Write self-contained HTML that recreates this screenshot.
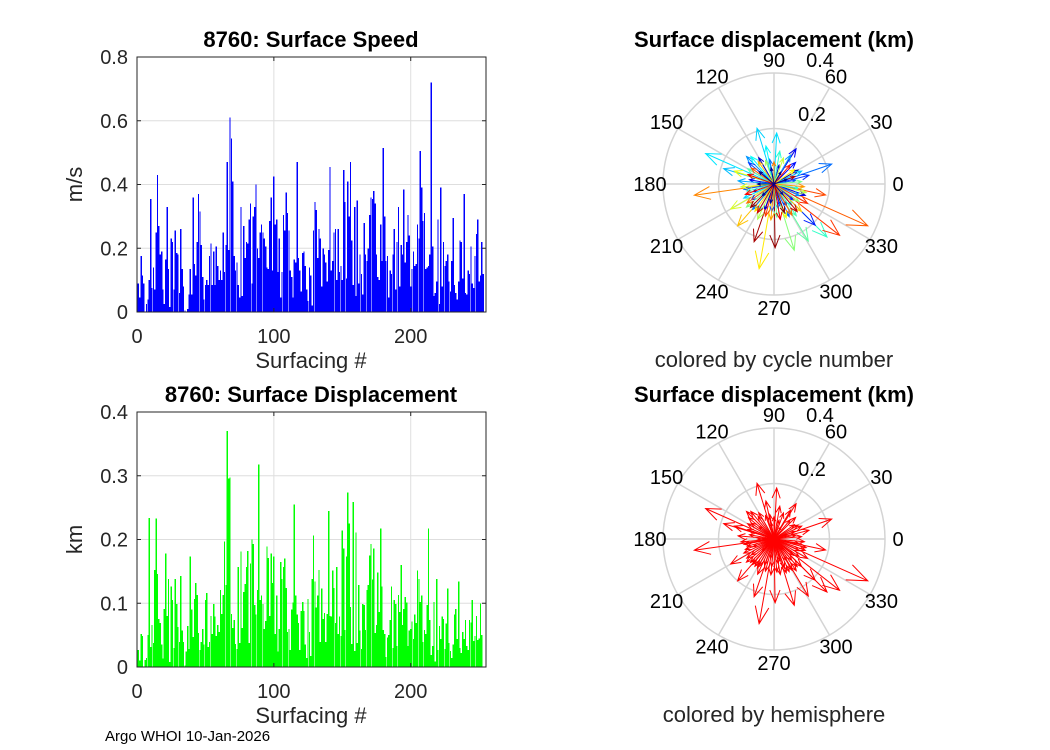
<!DOCTYPE html>
<html><head><meta charset="utf-8">
<style>
html,body{margin:0;padding:0;background:#fff;}
svg{display:block;font-family:"Liberation Sans",sans-serif;}
</style></head>
<body>
<svg id="fig" width="1050" height="750" viewBox="0 0 1050 750" xmlns="http://www.w3.org/2000/svg">
<rect width="1050" height="750" fill="#fff"/>
<g id="root"></g>
</svg>
<script>
// ---------- data ----------
const speedValues = [0.09,0.045,0.175,0.115,0.09,0,0.025,0.04,0.10,0.355,
0.075,0.14,0.07,0.25,0.43,0.27,0.18,0.19,0.07,0.025,
0.165,0.33,0.135,0.015,0.23,0.22,0.07,0.255,0.185,0.18,
0.06,0.26,0.135,0.08,0.005,0,0.01,0.055,0.135,0.055,
0.36,0.15,0.115,0.22,0.37,0.315,0.21,0.11,0.04,0.085,
0.10,0.085,0.175,0.215,0.085,0.19,0.085,0.205,0.145,0.10,
0.13,0.10,0.25,0.125,0.21,0.47,0.195,0.61,0.545,0.41,
0.175,0.13,0.155,0.085,0.045,0.33,0.05,0.27,0.17,0.22,
0.215,0.29,0.34,0.09,0.30,0.33,0.40,0.20,0.17,0.25,
0.275,0.25,0.23,0.205,0.14,0.135,0.285,0.36,0.13,0.425,
0.275,0.29,0.125,0.23,0.045,0.125,0.305,0.255,0.375,0.31,
0.255,0.13,0.11,0.045,0.165,0.155,0.47,0.17,0.13,0.065,
0.185,0.19,0.145,0.07,0.035,0.14,0.115,0.02,0.255,0.345,
0.32,0.17,0.26,0.23,0.08,0.20,0.18,0.155,0.095,0.195,
0.455,0.13,0.16,0.25,0.26,0.10,0.26,0.125,0.145,0.10,
0.445,0.345,0.105,0.41,0.30,0.47,0.225,0.085,0.33,0.05,
0.35,0.09,0.18,0.12,0.055,0.28,0.18,0.16,0.20,0.305,
0.36,0.355,0.38,0.34,0.18,0.11,0.10,0.275,0.16,0.515,0.30,
0.16,0.175,0.045,0.13,0.12,0.18,0.26,0.07,0.22,0.33,
0.08,0.21,0.18,0.385,0.155,0.22,0.305,0.24,0.08,0.135,
0.19,0.145,0.15,0.275,0.23,0.505,0.39,0.285,0.31,0.135,
0.14,0.145,0.18,0.72,0.205,0.05,0.06,0.095,0.29,0.025,0.39,
0.08,0.22,0.145,0.16,0.18,0.095,0.065,0.16,0.295,0.085,
0.06,0.04,0.095,0.225,0.22,0.105,0.37,0.06,0.055,0.13,
0.12,0.205,0.09,0.075,0.175,0.245,0.29,0.095,0.115,0.22,0.12];
const dispValues = [0.027,0.01,0.052,0.049,0,0.011,0.014,0.05,0.234,0.031,
0.066,0.038,0.152,0.233,0.146,0.075,0.069,0.035,0.013,0.091,
0.178,0.08,0.138,0.008,0.126,0.105,0.03,0.138,0.099,0.063,
0.039,0.143,0.057,0.039,0.002,0.024,0.064,0.028,0.173,0.09,
0.047,0.107,0.132,0.113,0.053,0.027,0.039,0.06,0.035,0.105,
0.116,0.031,0.039,0.08,0.052,0.099,0.079,0.049,0.066,0.055,
0.121,0.083,0.113,0.197,0.129,0.37,0.296,0.297,0.083,0.061,
0.074,0.036,0.028,0.157,0.038,0.181,0.061,0.118,0.13,0.157,
0.182,0.038,0.162,0.2,0.193,0.097,0.082,0.121,0.318,0.105,
0.112,0.099,0.06,0.072,0.189,0.171,0.08,0.178,0.132,0.173,
0.052,0.112,0.024,0.06,0.165,0.138,0.157,0.17,0.124,0.055,
0.06,0.027,0.09,0.101,0.255,0.112,0.082,0.069,0.027,0.088,
0.102,0.088,0.035,0.014,0.107,0.055,0.017,0.138,0.206,0.134,
0.093,0.112,0.152,0.039,0.123,0.075,0.085,0.039,0.083,0.245,
0.08,0.079,0.151,0.124,0.069,0.157,0.052,0.079,0.049,0.214,
0.186,0.058,0.173,0.274,0.225,0.094,0.036,0.259,0.025,0.211,
0.038,0.129,0.057,0.028,0.099,0.097,0.058,0.121,0.129,0.175,
0.193,0.137,0.186,0.053,0.066,0.148,0.086,0.217,0.126,0.058,
0.052,0.016,0.046,0.05,0.074,0.126,0.03,0.105,0.099,0.033,
0.113,0.086,0.16,0.066,0.091,0.11,0.101,0.033,0.057,0.06,
0.071,0.044,0.082,0.069,0.151,0.138,0.102,0.112,0.039,0.058,
0.052,0.097,0.217,0.074,0.019,0.033,0.102,0.009,0.138,0.027,
0.064,0.044,0.079,0.075,0.028,0.068,0.123,0.038,0.025,0.014,
0.035,0.082,0.091,0.044,0.134,0.03,0.022,0.055,0.044,0.074,
0.033,0.027,0.074,0.07,0.105,0.041,0.049,0.08,0.042,0.045,0.1,0.05];
const xTicks = [0,100,200];
const speedTicks = [0,0.2,0.4,0.6,0.8];
const dispTicks = [0,0.1,0.2,0.3,0.4];
// polar arrows: cycle number (colour), direction (deg), length (km)
const polarCycle = [200,190,90,85,88,165,110,60,130,245,175,250,120,150,80,40,70,205,45,30,95,155,210,
 10,12,15,18,20,22,25,28,33,36,38,42,48,50,53,56,58,62,65,68,72,75,78,82,86,92,98,102,105,108,112,115,118,122,125,128,133,136,140,143,146,152,158,162,168,172,178,182,186,192,196,198,202,208,212,218,222,226,230,235,238,242,248,252,5,7,3,2,8,4,6,1];
const polarDir = [-24,188,156,107,87,260,-45,19,-73,251,229,271,-59,210,163,-45,135,-12,14,58,102,162,-38,
 30,200,300,120,75,250,340,170,285,45,215,320,140,265,10,190,295,100,230,335,60,175,280,25,205,310,130,240,350,80,195,305,150,275,5,220,325,110,245,345,70,185,290,35,235,315,125,265,355,90,215,300,145,255,330,50,200,280,160,240,310,20,225,290,100,260,20,180,310,140,225,60];
const polarLen = [0.37,0.29,0.27,0.21,0.184,0.31,0.27,0.22,0.25,0.22,0.20,0.23,0.24,0.18,0.19,0.21,0.14,0.19,0.13,0.15,0.14,0.15,0.30,
 0.10,0.08,0.09,0.11,0.07,0.10,0.12,0.09,0.08,0.11,0.10,0.09,0.12,0.10,0.08,0.11,0.13,0.09,0.12,0.10,0.12,0.13,0.09,0.11,0.12,0.10,0.13,0.11,0.09,0.12,0.10,0.14,0.11,0.12,0.10,0.13,0.11,0.09,0.14,0.12,0.10,0.12,0.13,0.09,0.12,0.14,0.10,0.13,0.11,0.08,0.12,0.13,0.10,0.12,0.14,0.09,0.11,0.13,0.10,0.12,0.13,0.08,0.12,0.11,0.06,0.07,0.05,0.06,0.05,0.07,0.06,0.05];
const polarRingLabels = ['0.2','0.4'];

// ---------- helpers ----------
const NS = 'http://www.w3.org/2000/svg';
const root = document.getElementById('root');
function mk(tag, attrs, parent){const e=document.createElementNS(NS,tag);for(const k in attrs)e.setAttribute(k,attrs[k]);(parent||root).appendChild(e);return e;}
function txt(x,y,s,size,anchor,weight,parent,rot){const t=mk('text',{x:x,y:y,'font-size':size,'text-anchor':anchor||'middle','font-weight':weight||'normal',fill:weight==='bold'?'#000':'#262626'},parent);if(rot)t.setAttribute('transform','rotate(-90 '+x+' '+y+')');t.textContent=s;return t;}
function jet(t){const c=v=>Math.round(255*Math.max(0,Math.min(1,v)));return 'rgb('+c(1.5-Math.abs(4*t-3))+','+c(1.5-Math.abs(4*t-2))+','+c(1.5-Math.abs(4*t-1))+')';}

// ---------- bar charts ----------
function barChart(cfg){
  const g = mk('g',{});
  
  
  const L=137,R=486,T=cfg.top,B=cfg.bottom,xMax=255,yMax=cfg.ticks[cfg.ticks.length-1];
  const xs=v=>L+(v/xMax)*(R-L), ys=v=>B-(v/yMax)*(B-T);
  cfg.ticks.forEach(t=>{ if(t>0&&t<yMax){const l=mk('line',{x1:L,x2:R,y1:ys(t),y2:ys(t),stroke:'#dedede','stroke-width':1},g);}});
  xTicks.forEach(t=>{ if(t>0){const l=mk('line',{x1:xs(t),x2:xs(t),y1:T,y2:B,stroke:'#dedede','stroke-width':1},g);}});
  cfg.values.forEach((v,i)=>{
    const cx=xs(i+1), w=1.3;
    const r=mk('rect',{x:cx-w/2,y:ys(v),width:w,height:B-ys(v),fill:cfg.color,'shape-rendering':'crispEdges'},g);
    
    
  });
  const box=mk('rect',{x:L,y:T,width:R-L,height:B-T,fill:'none',stroke:'#262626','stroke-width':1},g);
  
  cfg.ticks.forEach(t=>{
    mk('line',{x1:L,x2:L+4,y1:ys(t),y2:ys(t),stroke:'#262626'},g);
    mk('line',{x1:R,x2:R-4,y1:ys(t),y2:ys(t),stroke:'#262626'},g);
    const lb=txt(128,ys(t)+7,String(t),20,'end','normal',g);
    
  });
  xTicks.forEach(t=>{
    mk('line',{x1:xs(t),x2:xs(t),y1:B,y2:B-4,stroke:'#262626'},g);
    mk('line',{x1:xs(t),x2:xs(t),y1:T,y2:T+4,stroke:'#262626'},g);
    const lb=txt(xs(t),B+31,String(t),20,'middle','normal',g);
    
  });
  const ti=txt(311,T-10,cfg.title,22,'middle','bold',g);
  const xl=txt(311,B+56,'Surfacing #',22,'middle','normal',g);
  const yl=txt(82,(T+B)/2,cfg.ylabel,22,'middle','normal',g,true);
}
barChart({name:'speed-bar-chart',top:57,bottom:312,ticks:speedTicks,values:speedValues,color:'#0000ff',title:'8760: Surface Speed',ylabel:'m/s'});
barChart({name:'displacement-bar-chart',top:412,bottom:667,ticks:dispTicks,values:dispValues,color:'#00ff00',title:'8760: Surface Displacement',ylabel:'km'});

// ---------- polar (compass) plots ----------
function compass(cfg){
  const g=mk('g',{});
  
  
  const cx=774, cy=cfg.cy, R=111, rMax=0.4;
  [0.2,0.4].forEach(r=>{const c=mk('circle',{cx:cx,cy:cy,r:r/rMax*R,fill:'none',stroke:'#d4d4d4','stroke-width':1.5},g);});
  for(let a=0;a<360;a+=30){
    const rad=a*Math.PI/180;
    const sp=mk('line',{x1:cx,y1:cy,x2:cx+R*Math.cos(rad),y2:cy-R*Math.sin(rad),stroke:'#d4d4d4','stroke-width':1.5},g);
    
    const lb=txt(cx+124*Math.cos(rad),cy-124*Math.sin(rad)+7,String(a),20,'middle','normal',g);
    lb.setAttribute('fill','#000');
    
  }
  const rl1=txt(cx+38,cy-63,polarRingLabels[0],20,'middle','normal',g);rl1.setAttribute('fill','#000');
  const rl2=txt(cx+46,cy-117,polarRingLabels[1],20,'middle','normal',g);rl2.setAttribute('fill','#000');
  polarLen.forEach((len,i)=>{
    const th=polarDir[i]*Math.PI/180, L=len/rMax*R;
    const pts=[[0,0],[1,0],[0.8,0.08],[1,0],[0.8,-0.08]].map(p=>{
      const x=p[0]*L, y=p[1]*L;
      return (cx+x*Math.cos(th)-y*Math.sin(th)).toFixed(1)+','+(cy-(x*Math.sin(th)+y*Math.cos(th))).toFixed(1);
    }).join(' ');
    const col=cfg.colorFn(polarCycle[i]);
    const a=mk('polyline',{points:pts,fill:'none',stroke:col,'stroke-width':1},g);
    
    
  });
  const ti=txt(cx,cy-137,'Surface displacement (km)',22,'middle','bold',g);
  const sub=txt(cx,cy+183,cfg.subtitle,22,'middle','normal',g);
}
compass({name:'polar-by-cycle',cy:184,subtitle:'colored by cycle number',colorFn:c=>jet((c-1)/254)});
compass({name:'polar-by-hemisphere',cy:539,subtitle:'colored by hemisphere',colorFn:c=>'#ff0000'});

const foot=txt(105,741,'Argo WHOI 10-Jan-2026',15,'start','normal');
foot.setAttribute('fill','#000');


</script>
</body></html>
